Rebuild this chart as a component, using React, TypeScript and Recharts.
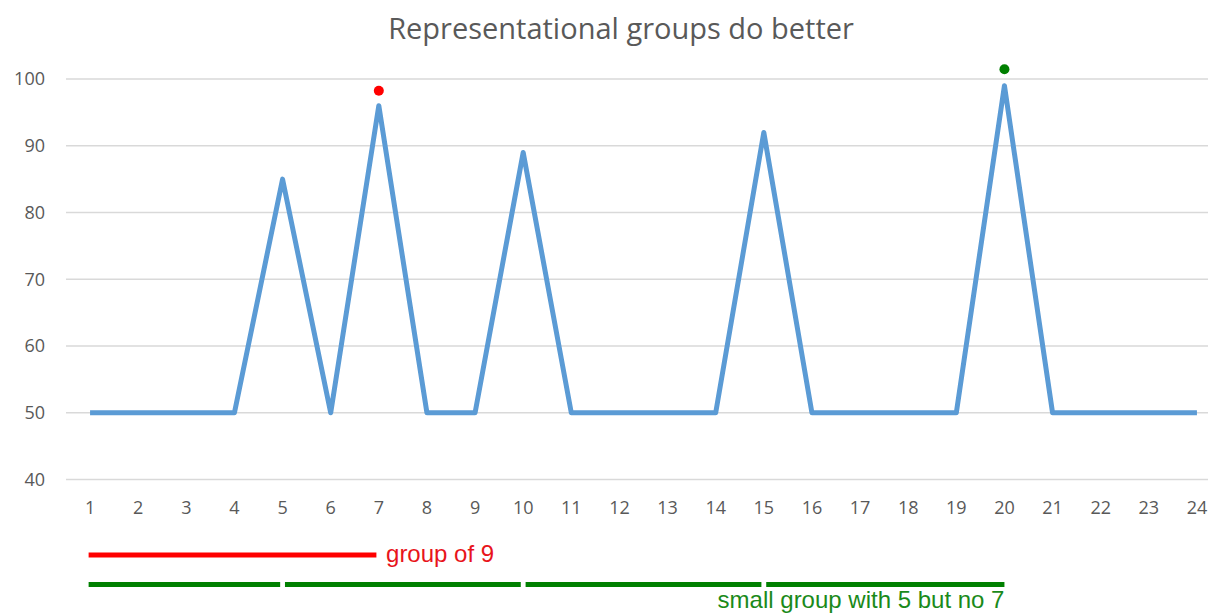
import React from 'react';
import {
  ComposedChart,
  Line,
  XAxis,
  YAxis,
  CartesianGrid,
  ReferenceLine,
  ReferenceDot,
} from 'recharts';

// Rounds on the horizontal axis and the score reached in each round
const rounds = [1, 2, 3, 4, 5, 6, 7, 8, 9, 10, 11, 12, 13, 14, 15, 16, 17, 18, 19, 20, 21, 22, 23, 24];
const scores = [50, 50, 50, 50, 85, 50, 96, 50, 50, 89, 50, 50, 50, 50, 92, 50, 50, 50, 50, 99, 50, 50, 50, 50];

const yTicks = [40, 50, 60, 70, 80, 90, 100];

// Highlight markers above the best peaks
const redMarker = { round: 7, value: 98.25 };
const greenMarker = { round: 20, value: 101.45 };

// Group spans drawn under the axis (in round units / score units)
const bigGroupSpan = [0.97, 6.95];
const bigGroupLevel = 28.7;
const bigGroupText = { round: 7.15, value: 28.9, text: 'group of 9' };

const smallGroupSpans = [
  [0.97, 4.95],
  [5.05, 9.95],
  [10.05, 14.95],
  [15.05, 20],
];
const smallGroupLevel = 24.3;
const smallGroupText = { round: 20, value: 22.0, text: 'small group with 5 but no 7' };

const chartData = rounds.map((round, i) => ({ round, score: scores[i] }));

const GRAY = '#595959';
const GRID = '#d9d9d9';
const BLUE = '#5b9bd5';
const RED = '#ff0000';
const RED_TEXT = '#e8141b';
const GREEN = '#008000';
const GREEN_TEXT = '#1a8a1a';
const TICK_FONT = "'Open Sans', 'Noto Sans', sans-serif";
const NOTE_FONT = "'Liberation Sans', Arial, sans-serif";

const textShape =
  (text: string, fill: string, anchor: 'start' | 'end') =>
  (props: any) => (
    <text
      x={props.cx}
      y={props.cy}
      textAnchor={anchor}
      dominantBaseline="central"
      fill={fill}
      fontSize={24}
      fontFamily={NOTE_FONT}
    >
      {text}
    </text>
  );

export default function App() {
  return (
    <div
      style={{
        position: 'absolute',
        left: 0,
        top: 0,
        width: 1208,
        height: 615,
        overflow: 'hidden',
        background: '#ffffff',
      }}
    >
      <div
        style={{
          position: 'absolute',
          left: 621,
          top: 8,
          transform: 'translateX(-50%)',
          whiteSpace: 'nowrap',
          fontFamily: TICK_FONT,
          fontSize: 29,
          color: GRAY,
          zIndex: 2,
        }}
      >
        Representational groups do better
      </div>
      <ComposedChart
        width={1221}
        height={615}
        data={chartData}
        margin={{ top: 79, right: 0, bottom: 95.4, left: 0 }}
      >
        <CartesianGrid vertical={false} stroke={GRID} strokeWidth={1.5} />
        <XAxis
          type="number"
          dataKey="round"
          domain={[0.5, 24.5]}
          ticks={rounds}
          interval={0}
          axisLine={false}
          tickLine={false}
          tickSize={0}
          tickMargin={22}
          height={40}
          tick={{ fill: GRAY, fontSize: 18, fontFamily: TICK_FONT }}
        />
        <YAxis
          type="number"
          domain={[40, 100]}
          ticks={yTicks}
          allowDataOverflow
          axisLine={false}
          tickLine={false}
          tickSize={0}
          tickMargin={21}
          width={66}
          tick={{ fill: GRAY, fontSize: 18, fontFamily: TICK_FONT }}
        />
        <Line
          type="linear"
          dataKey="score"
          stroke={BLUE}
          strokeWidth={5}
          strokeLinejoin="round"
          dot={false}
          activeDot={false}
          isAnimationActive={false}
        />
        <ReferenceDot
          x={redMarker.round}
          y={redMarker.value}
          r={5}
          fill={RED}
          stroke="none"
          ifOverflow="visible"
        />
        <ReferenceDot
          x={greenMarker.round}
          y={greenMarker.value}
          r={5}
          fill={GREEN}
          stroke="none"
          ifOverflow="visible"
        />
        <ReferenceLine
          segment={[
            { x: bigGroupSpan[0], y: bigGroupLevel },
            { x: bigGroupSpan[1], y: bigGroupLevel },
          ]}
          stroke={RED}
          strokeWidth={5}
          ifOverflow="visible"
        />
        {smallGroupSpans.map(([from, to], i) => (
          <ReferenceLine
            key={i}
            segment={[
              { x: from, y: smallGroupLevel },
              { x: to, y: smallGroupLevel },
            ]}
            stroke={GREEN}
            strokeWidth={5}
            ifOverflow="visible"
          />
        ))}
        <ReferenceDot
          x={bigGroupText.round}
          y={bigGroupText.value}
          r={0}
          ifOverflow="visible"
          shape={textShape(bigGroupText.text, RED_TEXT, 'start')}
        />
        <ReferenceDot
          x={smallGroupText.round}
          y={smallGroupText.value}
          r={0}
          ifOverflow="visible"
          shape={textShape(smallGroupText.text, GREEN_TEXT, 'end')}
        />
      </ComposedChart>
    </div>
  );
}
